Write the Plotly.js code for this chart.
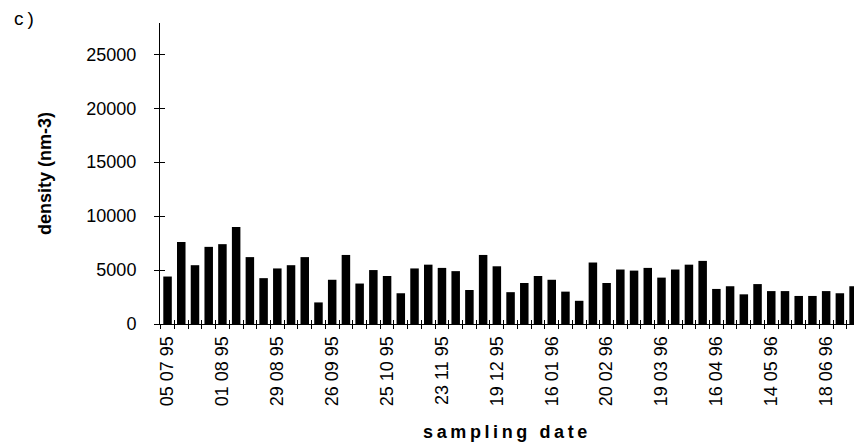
<!DOCTYPE html>
<html>
<head>
<meta charset="utf-8">
<script src="https://cdn.plot.ly/plotly-3.0.1.min.js"></script>
<style>
  html, body { margin: 0; padding: 0; background: #fff; }
  #chart { width: 854px; height: 445px; }
  .xtitle { letter-spacing: 3.6px; }
  .annotation-text { letter-spacing: 4px; }
</style>
</head>
<body>
<div id="chart"></div>
<script>
// Density per sampling date (one bar per sampling)
const density = [
  4400, 7600, 5450, 7150, 7400, 9000, 6200, 4250, 5150, 5450,
  6200, 2000, 4100, 6400, 3750, 5000, 4450, 2850, 5150, 5500,
  5200, 4900, 3150, 6400, 5350, 2950, 3800, 4450, 4100, 3000,
  2150, 5700, 3800, 5050, 4950, 5200, 4300, 5050, 5500, 5850,
  3250, 3500, 2750, 3700, 3050, 3050, 2600, 2600, 3050, 2850,
  3500
];
// Labelled sampling dates (every fourth sampling)
const dateLabels = [
  '05 07 95', '01 08 95', '29 08 95', '26 09 95', '25 10 95',
  '23 11 95', '19 12 95', '16 01 96', '20 02 96', '19 03 96',
  '16 04 96', '14 05 96', '18 06 96'
];
const labelStep = 4;
const yTicks = [0, 5000, 10000, 15000, 20000, 25000];

const sampleIndex = density.map((_, i) => i);
const labelPositions = dateLabels.map((_, i) => i * labelStep);

const FAMILY = 'Liberation Sans, Arial, sans-serif';
const xRange = [-0.55, 50.03];
const yRange = [0, 27900];

const traces = [{
  type: 'bar',
  x: sampleIndex,
  y: density,
  width: 0.62,
  marker: { color: '#000', line: { width: 0 } },
  hoverinfo: 'skip'
}, {
  type: 'scatter',
  mode: 'none',
  x: [],
  y: [],
  xaxis: 'x2',
  yaxis: 'y2',
  showlegend: false,
  hoverinfo: 'skip'
}];

const layout = {
  width: 854,
  height: 445,
  margin: { l: 160, r: 0, t: 23, b: 121, pad: 0 },
  font: { family: FAMILY, size: 18, color: '#000' },
  paper_bgcolor: '#fff',
  plot_bgcolor: '#fff',
  showlegend: false,
  xaxis: {
    range: xRange,
    tickmode: 'array',
    tickvals: labelPositions,
    ticktext: dateLabels,
    tickangle: -90,
    ticks: '',
    ticklabelstandoff: 4,
    tickfont: { family: FAMILY, size: 18, color: '#000' },
    minor: { tickmode: 'linear', tick0: -0.5, dtick: 1, ticks: 'outside', ticklen: 4, tickwidth: 1, tickcolor: '#000', showgrid: false },
    showline: true, linecolor: '#000', linewidth: 1,
    showgrid: false, zeroline: false, fixedrange: true,
    title: {
      text: 'sampling date',
      font: { family: FAMILY, size: 18, color: '#000', weight: 'bold' },
      standoff: 20
    }
  },
  yaxis: {
    range: yRange,
    tickmode: 'array',
    tickvals: yTicks,
    tickformat: 'd',
    ticks: 'outside', ticklen: 5, tickwidth: 1, tickcolor: '#000',
    ticklabelstandoff: 14,
    tickfont: { family: FAMILY, size: 18, color: '#000' },
    showline: true, linecolor: '#000', linewidth: 1,
    showgrid: false, zeroline: false, fixedrange: true,
    title: {
      text: 'density (nm-3)',
      font: { family: FAMILY, size: 18, color: '#000', weight: 'bold' },
      standoff: 30
    }
  },
  xaxis2: {
    overlaying: 'x', anchor: 'y2', side: 'bottom',
    range: xRange,
    showticklabels: false,
    tickmode: 'linear', tick0: -0.5, dtick: 1,
    ticks: 'inside', ticklen: 4, tickwidth: 1, tickcolor: '#000',
    showline: false, showgrid: false, zeroline: false, fixedrange: true
  },
  yaxis2: {
    overlaying: 'y', anchor: 'x2', side: 'left',
    range: yRange,
    showticklabels: false,
    tickmode: 'array', tickvals: yTicks,
    ticks: 'inside', ticklen: 5, tickwidth: 1, tickcolor: '#000',
    showline: false, showgrid: false, zeroline: false, fixedrange: true
  },
  annotations: [{
    text: 'c)',
    xref: 'paper', yref: 'paper',
    x: (12 - 160) / 694, y: 1 + 4.5 / 301,
    xanchor: 'left', yanchor: 'middle',
    showarrow: false,
    font: { family: FAMILY, size: 19, color: '#000' }
  }]
};

Plotly.newPlot('chart', traces, layout, { displayModeBar: false, staticPlot: true });
</script>
</body>
</html>
